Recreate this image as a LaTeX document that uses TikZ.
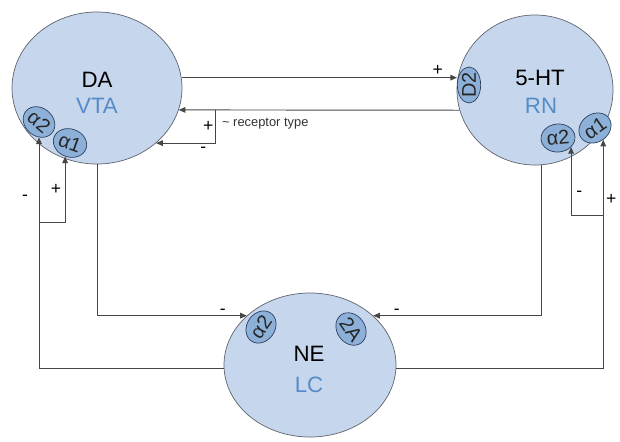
\documentclass[tikz,border=0pt]{standalone}
\usepackage{fontspec}
\setmainfont{Liberation Sans}
\usetikzlibrary{shapes.geometric,arrows.meta}

\definecolor{areafill}{RGB}{198,214,236}
\definecolor{areaedge}{RGB}{95,100,110}
\definecolor{recfill}{RGB}{140,176,216}
\definecolor{recedge}{RGB}{45,65,95}
\definecolor{areablue}{RGB}{85,140,200}
\definecolor{wiregray}{RGB}{70,70,70}

\begin{document}
\begin{tikzpicture}[x=0.03cm, y=-0.03cm]
   \tikzstyle{area}=[draw=areaedge, fill=areafill, ellipse, line width=0.6pt]
   \tikzstyle{receptor}=[draw=recedge, fill=recfill, ellipse, line width=0.6pt, inner sep=0pt, minimum width=1.02cm, minimum height=0.84cm, font=\fontsize{17}{17}\selectfont, text=black!85]
   \tikzstyle{transmitter}=[font=\fontsize{19}{21}\selectfont]
   \tikzstyle{nucleus}=[font=\fontsize{19}{21}\selectfont, text=areablue]
   \tikzstyle{link}=[draw=wiregray, line width=0.8pt, -{Triangle[length=2mm,width=1.7mm]}]
   \tikzstyle{sign}=[font=\fontsize{15}{15}\selectfont, inner sep=1pt]
   \tikzstyle{note}=[font=\fontsize{11}{12}\selectfont, text=black!80]

\useasboundingbox (0,0) rectangle (620,441);

% brain areas
\node[area, minimum width=5.1cm, minimum height=4.56cm] (da) at (97,88) {};
\node[area, minimum width=4.68cm, minimum height=4.5cm] (ht) at (535,90) {};
\node[area, minimum width=5.16cm, minimum height=4.32cm] (ne) at (310,365) {};

\node[transmitter] (da-name) at (97,80) {DA};
\node[nucleus] (da-place) at (97,106) {VTA};
\node[transmitter] (ht-name) at (540,78) {5-HT};
\node[nucleus] (ht-place) at (541,106) {RN};
\node[transmitter] (ne-name) at (309,354) {NE};
\node[nucleus] (ne-place) at (309,385) {LC};

% receptors
\node[receptor, rotate=-40] (da-a2) at (39,122) {α2};
\node[receptor, rotate=-20] (da-a1) at (70,143) {α1};
\node[receptor, rotate=90, minimum width=0.88cm, minimum height=0.7cm] (ht-d2) at (469,85) {D2};
\node[receptor, rotate=5] (ht-a2) at (558,138) {α2};
\node[receptor, rotate=35] (ht-a1) at (595,128) {α1};
\node[receptor, rotate=55] (ne-a2) at (261,327) {α2};
\node[receptor, rotate=-55] (ne-2a) at (351,329) {2A};

% DA <-> 5-HT
\draw[link] (da.7) -- (da.7 -| ht-d2.north) node[sign, pos=0.93, above] {+};
\draw[link] (ht.195) -- (da.-15);
\coordinate (fork) at (215,110);
\draw[link] (fork) |- (da.-43) node[sign, pos=0.25, left] {+} node[sign, pos=0.6, below=2pt] {-};
\node[note, anchor=west] (receptor-note) at (218,124) {\textasciitilde\ receptor type};

% DA, 5-HT -> NE
\draw[link] (da.south) |- (ne.142) node[sign, pos=0.92, above] {-};
\draw[link] (ht.-85) |- (ne.38) node[sign, pos=0.93, above] {-};

% NE -> DA
\draw[link] (ne.182) -| (da-a2) node[sign, pos=0.87, left=8pt] {-};
\path (da-a2.center) ++(0,100) coordinate (lfork);
\draw[link] (lfork) -| (da-a1.south) node[sign, pos=0.75, left=2pt] {+};

% NE -> 5-HT
\draw[link] (ne.-2) -| (ht-a1.south) node[sign, pos=0.87, right=1pt] {+};
\path (ht-a1.south) ++(0,76) coordinate (rfork);
\draw[link] (rfork) -| (ht-a2.south east) node[sign, pos=0.66, right=3pt] {-};

\end{tikzpicture}
\end{document}
